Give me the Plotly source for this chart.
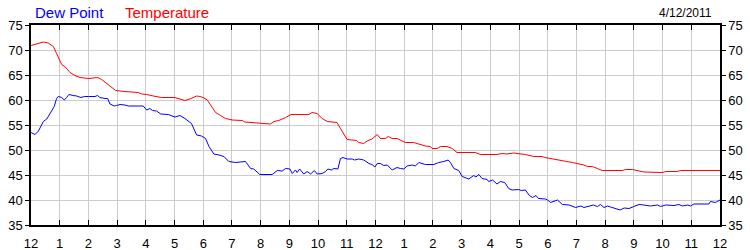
import plotly.graph_objects as go

# hours since midnight (0 = 12 AM, 24 = next midnight)
temp_hours = [0.00, 0.14, 0.26, 0.43, 0.60, 0.78, 0.89, 1.01, 1.07, 1.18, 1.36, 1.53, 1.71, 2.01, 2.32,
              2.46, 2.69, 2.95, 3.27, 3.74, 3.85, 4.03, 4.26, 4.55, 5.01, 5.24, 5.36, 5.53, 5.77, 5.88,
              6.00, 6.14, 6.26, 6.43, 6.60, 6.78, 7.01, 7.36, 7.44, 7.76, 7.97, 8.34, 8.46, 8.63, 8.87,
              9.06, 9.68, 9.79, 9.97, 10.14, 10.32, 10.66, 10.78, 10.92, 11.01, 11.34, 11.42, 11.59,
              11.71, 11.88, 12.00, 12.06, 12.17, 12.35, 12.44, 12.58, 12.75, 12.87, 13.04, 13.33,
              13.51, 13.74, 13.91, 13.97, 14.15, 14.26, 14.49, 14.67, 14.84, 15.48, 15.65, 16.23,
              16.41, 16.58, 16.81, 16.99, 17.22, 17.51, 17.80, 17.90, 18.00, 18.22, 18.45, 18.63,
              18.86, 19.09, 19.26, 19.38, 19.55, 19.73, 19.90, 20.60, 20.71, 20.95, 21.12, 21.35,
              21.99, 22.11, 22.51, 22.63, 24.00]
temp_values = [70.9, 71.1, 71.3, 71.6, 71.4, 70.7, 69.3, 67.7, 67.1, 66.7, 65.5, 64.9, 64.5, 64.3, 64.5,
               64.1, 63.0, 61.9, 61.7, 61.5, 61.2, 61.1, 60.8, 60.5, 60.5, 60.2, 59.9, 60.2, 60.8, 60.7,
               60.5, 60.0, 59.0, 57.5, 56.9, 56.3, 56.0, 55.9, 55.6, 55.5, 55.3, 55.2, 55.7, 55.9, 56.5,
               57.1, 57.1, 57.5, 57.3, 56.3, 55.7, 55.5, 54.3, 53.0, 52.1, 51.9, 51.5, 51.3,
               51.8, 52.2, 52.7, 53.1, 52.3, 52.3, 52.7, 52.3, 52.3, 51.9, 51.5, 51.5,
               51.2, 50.8, 50.7, 50.3, 50.3, 50.7, 50.7, 50.3, 49.5, 49.5, 49.1, 49.1,
               49.3, 49.2, 49.4, 49.3, 49.1, 48.7, 48.7, 48.5, 48.4, 48.2, 48.0, 47.7,
               47.5, 47.2, 47.0, 46.7, 46.7, 46.3, 45.9, 45.9, 46.1, 46.1, 45.9, 45.6,
               45.5, 45.7, 45.7, 45.9, 45.9]

dew_hours = [0.00, 0.14, 0.26, 0.37, 0.43, 0.55, 0.66, 0.81, 0.89, 0.95, 1.07, 1.16, 1.24, 1.32, 1.47,
             1.59, 1.74, 1.86, 2.00, 2.23, 2.32, 2.40, 2.58, 2.67, 2.75, 2.90, 2.98, 3.10, 3.27, 3.39,
             3.91, 4.03, 4.14, 4.23, 4.37, 4.52, 4.78, 4.90, 5.01, 5.19, 5.36, 5.59, 5.68, 5.77, 5.94,
             6.08, 6.20, 6.37, 6.55, 6.72, 6.89, 7.13, 7.47, 7.65, 7.76, 7.97, 8.40, 8.58, 8.75, 8.87,
             9.02, 9.10, 9.21, 9.27, 9.36, 9.50, 9.62, 9.74, 9.87, 9.97, 10.14, 10.26, 10.34, 10.46,
             10.55, 10.69, 10.78, 10.87, 11.01, 11.19, 11.27, 11.42, 11.59, 11.77, 11.88, 11.98,
             12.06, 12.17, 12.29, 12.41, 12.58, 12.75, 12.87, 12.99, 13.10, 13.28, 13.39, 13.51,
             13.62, 13.74, 14.03, 14.20, 14.38, 14.53, 14.61, 14.73, 14.90, 15.02, 15.25, 15.42,
             15.50, 15.60, 15.71, 15.89, 15.94, 16.08, 16.23, 16.35, 16.50, 16.64, 16.76, 16.99,
             17.08, 17.22, 17.36, 17.47, 17.59, 17.68, 17.92, 17.99, 18.10, 18.22, 18.34, 18.51,
             18.74, 18.97, 19.15, 19.26, 19.44, 19.59, 19.73, 19.84, 19.96, 20.08, 20.19, 20.37,
             20.52, 20.66, 20.83, 21.00, 21.18, 21.35, 21.58, 21.82, 21.93, 22.11, 22.40, 22.57,
             22.69, 22.88, 22.97, 23.09, 23.61, 23.67, 23.84, 24.00]
dew_values = [53.5, 53.1, 53.8, 54.9, 55.7, 56.2, 57.3, 58.7, 60.3, 60.7, 60.5, 60.0, 60.5, 61.1, 60.9,
              60.8, 60.5, 60.7, 60.7, 60.7, 60.9, 60.5, 60.3, 60.3, 59.2, 58.8, 58.9, 59.1, 59.0, 58.8,
              58.8, 58.0, 58.3, 57.9, 57.8, 57.2, 57.1, 56.9, 56.6, 56.9, 56.3, 55.3, 54.2, 53.0, 52.8,
              52.3, 50.7, 49.2, 49.0, 48.7, 47.7, 47.5, 47.7, 46.3, 46.2, 45.1, 45.1, 45.9, 45.8, 46.3,
              46.2, 45.3, 46.0, 45.5, 46.2, 45.2, 45.7, 45.2, 45.9, 45.2, 45.3, 45.7, 46.2, 46.0,
              46.3, 46.2, 48.3, 48.5, 48.2, 48.2, 48.0, 48.2, 48.0, 47.3, 47.1, 46.6,
              47.3, 47.3, 46.9, 47.0, 46.0, 46.5, 46.3, 46.2, 46.8, 47.0, 46.8, 47.5,
              47.3, 47.1, 47.1, 47.5, 47.7, 48.0, 47.5, 46.3, 45.9, 44.7, 44.2, 44.9,
              44.6, 45.1, 44.3, 44.1, 43.7, 44.0, 43.2, 43.7, 43.5, 42.3, 42.0, 42.1,
              41.9, 42.0, 40.9, 40.5, 40.9, 40.3, 40.2, 40.0, 39.5, 39.7, 40.0, 39.1,
              39.0, 38.5, 38.8, 38.5, 38.8, 39.0, 38.7, 39.1, 38.5, 38.8, 38.6, 38.3,
              38.0, 38.4, 38.3, 38.7, 39.1, 39.0, 38.8, 39.0, 38.7, 39.0, 38.9, 39.1,
              38.8, 39.0, 38.8, 39.2, 39.2, 39.7, 39.5, 40.0]

x_tickvals = list(range(0, 25))
x_ticktext = ["12", "1", "2", "3", "4", "5", "6", "7", "8", "9", "10", "11",
              "12", "1", "2", "3", "4", "5", "6", "7", "8", "9", "10", "11", "12"]
y_tickvals = [35, 40, 45, 50, 55, 60, 65, 70, 75]
date_label = "4/12/2011"

FONT = "Liberation Sans, Arial, sans-serif"
GRID = "#cccccc"

fig = go.Figure()
fig.add_trace(go.Scatter(x=dew_hours, y=dew_values, mode="lines", name="Dew Point",
                         line=dict(color="#0000ff", width=1), yaxis="y"))
fig.add_trace(go.Scatter(x=temp_hours, y=temp_values, mode="lines", name="Temperature",
                         line=dict(color="#ff0000", width=1), yaxis="y2"))

fig.update_layout(
    width=750, height=250,
    margin=dict(l=31, r=30, t=25, b=25, autoexpand=False),
    paper_bgcolor="white", plot_bgcolor="white",
    showlegend=False,
    font=dict(family=FONT, size=12, color="black"),
    xaxis=dict(range=[0, 24], tickvals=x_tickvals, ticktext=x_ticktext,
               showgrid=True, gridcolor=GRID, gridwidth=1,
               ticks="inside", ticklen=5, tickcolor="black", tickwidth=1,
               ticklabelstandoff=6, automargin=False,
               showline=True, linecolor="black", linewidth=1.5, mirror="ticks",
               zeroline=False, tickfont=dict(size=13, family=FONT, color="black")),
    yaxis=dict(range=[35, 75], tickvals=y_tickvals, automargin=False,
               showgrid=True, gridcolor=GRID, gridwidth=1,
               ticks="outside", ticklen=4, tickcolor="black",
               showline=True, linecolor="black", linewidth=1.5, mirror=True,
               zeroline=False, tickfont=dict(size=13, family=FONT, color="black")),
    yaxis2=dict(range=[35, 75], tickvals=y_tickvals, overlaying="y", side="right",
                automargin=False,
                showgrid=False, ticks="outside", ticklen=4, tickcolor="black",
                showline=True, linecolor="black", linewidth=1.5,
                zeroline=False, tickfont=dict(size=13, family=FONT, color="black")),
    annotations=[
        dict(text="Dew Point", x=33, y=12, showarrow=False,
             xanchor="left", yanchor="middle", font=dict(size=15, color="#0000ff", family=FONT)),
        dict(text="Temperature", x=123, y=12, showarrow=False,
             xanchor="left", yanchor="middle", font=dict(size=15, color="#ff0000", family=FONT)),
        dict(text=date_label, x=714, y=13, showarrow=False,
             xanchor="right", yanchor="middle", font=dict(size=12, color="black", family=FONT)),
    ],
)

# convert pixel positions of the header texts to paper coordinates
plot_w = 750 - 31 - 30
plot_h = 250 - 25 - 25
for ann in fig.layout.annotations:
    ann.xref = "paper"
    ann.yref = "paper"
    ann.x = (ann.x - 31) / plot_w
    ann.y = (250 - 25 - ann.y) / plot_h

fig.write_html("out.html")
